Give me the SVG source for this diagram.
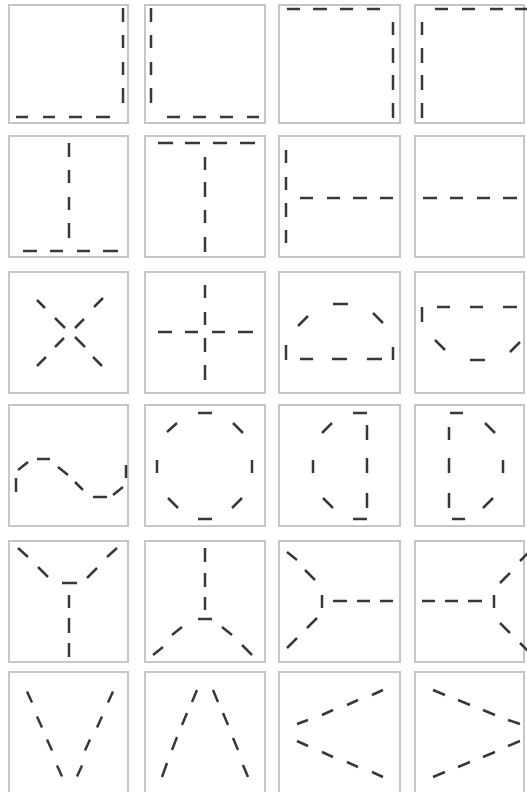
<svg xmlns="http://www.w3.org/2000/svg" width="527" height="792" viewBox="0 0 527 792">
<style>
.t{fill:#fff;stroke:#c6c6c6;stroke-width:2}
.d{fill:none;stroke:#383838;stroke-width:2.5;stroke-linecap:butt}
</style>
<rect width="527" height="792" fill="#fff"/>
<g id="r1c1"><rect class="t" x="9" y="5" width="119" height="118"/>
<path class="d" d="M123 8V22M123 35V48M123 62V75M123 88V103M16 117H28M43 117H55M69 117H82M96 117H110"/></g>
<g id="r1c2"><rect class="t" x="145" y="5" width="120" height="118"/>
<path class="d" d="M151 8V22M151 35V48M151 62V75M151 88V103M167 117H180M193 117H206M220 117H233M247 117H259"/></g>
<g id="r1c3"><rect class="t" x="279" y="5" width="121" height="118"/>
<path class="d" d="M287 9H300M313 9H327M340 9H353M367 9H380M393 22V35M393 48V63M393 75V90M393 103V118"/></g>
<g id="r1c4"><rect class="t" x="415" y="5" width="109" height="118"/>
<path class="d" d="M435 9H448M462 9H475M490 9H503M515 9H527M422 22V35M422 48V63M422 75V90M422 103V118"/></g>

<g id="r2c1"><rect class="t" x="9" y="136" width="119" height="121"/>
<path class="d" d="M69 143V157M69 170V183M69 197V210M69 223V238M23 251H37M50 251H63M77 251H90M103 251H118"/></g>
<g id="r2c2"><rect class="t" x="145" y="136" width="120" height="121"/>
<path class="d" d="M158 143H173M185 143H200M213 143H227M240 143H255M205 157V170M205 182V197M205 210V223M205 237V252"/></g>
<g id="r2c3"><rect class="t" x="279" y="136" width="121" height="121"/>
<path class="d" d="M286 150V163M286 177V190M286 203V217M286 230V243M300 198H313M327 198H340M353 198H367M380 198H393"/></g>
<g id="r2c4"><rect class="t" x="415" y="136" width="109" height="121"/>
<path class="d" d="M423 198H437M450 198H463M477 198H490M503 198H517"/></g>

<g id="r3c1"><rect class="t" x="9" y="272" width="119" height="121"/>
<path class="d" d="M37 300L45 308M55 318L65 328M75 337L85 347M93 357L102 366M94 307L103 298M75 328L84 319M55 347L64 338M37 366L46 357"/></g>
<g id="r3c2"><rect class="t" x="145" y="272" width="120" height="121"/>
<path class="d" d="M205 285V298M205 312V325M205 338V352M205 365V380M158 332H172M185 332H198M212 332H225M238 332H253"/></g>
<g id="r3c3"><rect class="t" x="279" y="272" width="121" height="121"/>
<path class="d" d="M333 304H348M298 326L308 316M373 313L383 323M286 345V360M393 347V360M300 359H313M332 359H347M367 359H382"/></g>
<g id="r3c4"><rect class="t" x="415" y="272" width="109" height="121"/>
<path class="d" d="M422 307V322M437 307H450M470 307H483M503 307H517M435 340L445 350M470 360H485M510 352L520 342"/></g>

<g id="r4c1"><rect class="t" x="9" y="405" width="119" height="121"/>
<path class="d" d="M16 478V492M18 470L28 462M37 459H50M58 467L68 475M75 482L83 490M93 497H107M113 495L123 487M126 465V478"/></g>
<g id="r4c2"><rect class="t" x="145" y="405" width="120" height="121"/>
<path class="d" d="M198 413H212M167 432L177 423M233 423L243 433M157 460V473M252 460V473M168 498L178 508M232 508L242 498M198 519H212"/></g>
<g id="r4c3"><rect class="t" x="279" y="405" width="121" height="121"/>
<path class="d" d="M353 413H367M322 433L332 423M313 460V473M323 498L333 508M353 519H367M367 425V440M367 458V473M367 493V508"/></g>
<g id="r4c4"><rect class="t" x="415" y="405" width="109" height="121"/>
<path class="d" d="M450 413H463M449 427V440M449 458V473M449 493V508M485 423L495 433M503 460V473M483 508L493 498M452 519H465"/></g>

<g id="r5c1"><rect class="t" x="9" y="541" width="119" height="121"/>
<path class="d" d="M18 548L28 557M38 567L48 577M62 583H77M87 578L97 568M107 557L117 548M69 595V608M69 618V633M69 643V657"/></g>
<g id="r5c2"><rect class="t" x="145" y="541" width="120" height="121"/>
<path class="d" d="M205 548V562M205 573V587M205 597V610M198 619H212M172 635L182 627M153 655L163 647M222 627L232 635M242 645L252 655"/></g>
<g id="r5c3"><rect class="t" x="279" y="541" width="121" height="121"/>
<path class="d" d="M287 552L297 560M305 570L315 580M322 595V608M333 601H347M357 601H370M380 601H393M307 628L317 618M287 648L297 638"/></g>
<g id="r5c4"><rect class="t" x="415" y="541" width="109" height="121"/>
<path class="d" d="M422 601H435M445 601H458M468 601H482M494 595V608M500 583L510 573M520 561L528 553M500 623L510 633M520 643L528 651"/></g>

<g id="r6c1"><rect class="t" x="9" y="672" width="119" height="125"/>
<path class="d" d="M27 691.5L32 702.5M37 716.5L42 727.5M47 739.5L52 750.5M57 765.5L62 776.5M113 691.5L108 702.5M102 716.5L97 727.5M90 739.5L85 750.5M82 765.5L77 776.5"/></g>
<g id="r6c2"><rect class="t" x="145" y="672" width="120" height="125"/>
<path class="d" d="M197 690L192 702M187 713L182 725M177 737L172 750M167 763L162 777M213 690L218 702M223 713L228 725M233 738L238 750M243 765L248 777"/></g>
<g id="r6c3"><rect class="t" x="279" y="672" width="121" height="125"/>
<path class="d" d="M383 690L372 695M358 700L347 705M333 710L322 715M308 720L297 724M297 741L308 746M322 752L333 757M347 762L358 767M372 772L383 777"/></g>
<g id="r6c4"><rect class="t" x="415" y="672" width="109" height="125"/>
<path class="d" d="M433 690L445 695M458 700L470 705M483 710L495 715M508 720L520 724M520 741L508 746M495 752L483 757M470 762L458 767M445 772L433 777"/></g>
</svg>
